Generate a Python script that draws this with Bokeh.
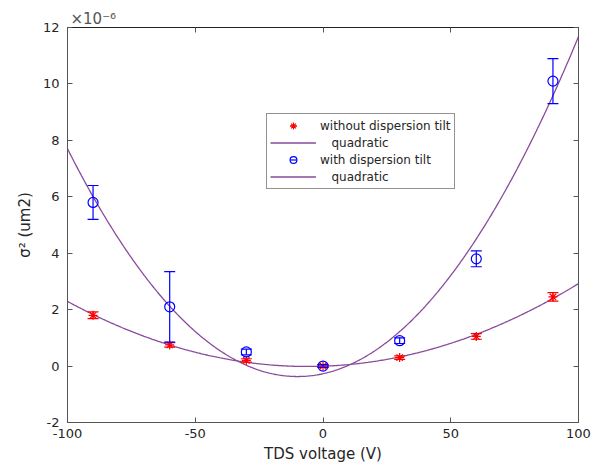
import numpy as np
from bokeh.plotting import figure
from bokeh.models import (LinearAxis, FixedTicker, Legend, LegendItem,
                          ColumnDataSource, Range1d)
from bokeh.embed import file_html
from bokeh.resources import INLINE

# ---- data (sigma^2 in units of 1e-6 um2) ----
voltage = [-90, -60, -30, 0, 30, 60, 90]
without_tilt = [1.80, 0.75, 0.20, 0.00, 0.30, 1.05, 2.45]
without_err = [0.12, 0.08, 0.06, 0.04, 0.06, 0.10, 0.15]
with_tilt = [5.80, 2.10, 0.50, 0.00, 0.90, 3.80, 10.10]
with_err = [0.60, 1.25, 0.10, 0.05, 0.10, 0.28, 0.80]
x_ticks = [-100, -50, 0, 50, 100]
y_ticks = [-2, 0, 2, 4, 6, 8, 10, 12]

FONT = "DejaVu Sans"
RED = "#ff0000"
BLUE = "#0000ff"
PURPLE = "#8a4a9c"
AXC = "#555555"

p = figure(width=592, height=472, output_backend="svg", toolbar_location=None,
           x_range=Range1d(-100, 100), y_range=Range1d(-2, 12),
           min_border_left=67, min_border_right=14, min_border_top=27,
           min_border_bottom=50)
p.background_fill_color = "white"
p.border_fill_color = "white"
p.xgrid.visible = False
p.ygrid.visible = False
p.outline_line_color = "#222222"
p.outline_line_width = 1

p.title.text = "×10⁻⁶"
p.title.text_font = FONT
p.title.text_font_size = "15px"
p.title.text_font_style = "normal"
p.title.text_color = "#555555"
p.title.align = "left"
p.title.offset = 3
p.title.standoff = 0

for ax in (p.xaxis[0], p.yaxis[0]):
    ax.major_tick_in = 5
    ax.major_tick_out = 0
    ax.minor_tick_line_color = None
    ax.axis_line_color = AXC
    ax.major_tick_line_color = AXC
    ax.major_label_text_font = FONT
    ax.major_label_text_font_size = "13px"
    ax.major_label_text_color = "#262626"
    ax.axis_label_text_font = FONT
    ax.axis_label_text_font_size = "15px"
    ax.axis_label_text_font_style = "normal"
    ax.axis_label_text_color = "#262626"
p.xaxis[0].ticker = FixedTicker(ticks=x_ticks)
p.yaxis[0].ticker = FixedTicker(ticks=y_ticks)
p.xaxis[0].major_label_overrides = {t: str(t) for t in x_ticks}
p.yaxis[0].major_label_overrides = {t: str(t) for t in y_ticks}
p.xaxis[0].axis_label = "TDS voltage (V)"
p.yaxis[0].axis_label = "σ² (um2)"
p.xaxis[0].major_label_standoff = 6
p.yaxis[0].major_label_standoff = 8
p.xaxis[0].axis_label_standoff = 4
p.yaxis[0].axis_label_standoff = 6

# mirrored tick axes (box on)
top = LinearAxis(ticker=FixedTicker(ticks=x_ticks), major_tick_in=5, major_tick_out=0,
                 minor_tick_line_color=None,
                 major_label_overrides={t: "" for t in x_ticks},
                 axis_line_color="#222222", major_tick_line_color=AXC)
right = LinearAxis(ticker=FixedTicker(ticks=y_ticks), major_tick_in=5, major_tick_out=0,
                   minor_tick_line_color=None,
                   major_label_overrides={t: "" for t in y_ticks},
                   axis_line_color=AXC, major_tick_line_color=AXC)
p.add_layout(top, "above")
p.add_layout(right, "right")

# quadratic fits
xs = np.linspace(-100, 100, 401)
cw = np.polyfit(voltage, without_tilt, 2)
cb = np.polyfit(voltage, with_tilt, 2)
fit_without = p.line(xs, np.polyval(cw, xs), line_color=PURPLE, line_width=1.3)
fit_with = p.line(xs, np.polyval(cb, xs), line_color=PURPLE, line_width=1.3)

def errorbars(y, e, color):
    v = np.array(voltage, float)
    y = np.array(y, float)
    e = np.array(e, float)
    src = ColumnDataSource(dict(x=v, lo=y - e, hi=y + e))
    p.segment(x0="x", y0="lo", x1="x", y1="hi", source=src, line_color=color, line_width=1.2)
    p.scatter(x="x", y="lo", source=src, marker="dash", size=11, line_color=color, line_width=1.2)
    p.scatter(x="x", y="hi", source=src, marker="dash", size=11, line_color=color, line_width=1.2)

errorbars(without_tilt, without_err, RED)
m_without = p.scatter(voltage, without_tilt, marker="asterisk", size=9, line_color=RED, line_width=1.2)
errorbars(with_tilt, with_err, BLUE)
m_with = p.scatter(voltage, with_tilt, marker="circle", size=10, fill_color=None,
                   line_color=BLUE, line_width=1.2)

# legend-only glyphs
nan = [np.nan]
lg_bar_r = p.scatter(nan, nan, marker="dash", angle=np.pi / 2, size=16, line_color=RED, line_width=1.2)
lg_bar_b = p.scatter(nan, nan, marker="dash", angle=np.pi / 2, size=16, line_color=BLUE, line_width=1.2)
lg_m_r = p.scatter(nan, nan, marker="asterisk", size=9, line_color=RED, line_width=1.2)
lg_m_b = p.scatter(nan, nan, marker="circle", size=10, fill_color=None, line_color=BLUE, line_width=1.2)

legend = Legend(items=[
    LegendItem(label="without dispersion tilt", renderers=[lg_bar_r, lg_m_r]),
    LegendItem(label="   quadratic", renderers=[fit_without]),
    LegendItem(label="with dispersion tilt", renderers=[lg_bar_b, lg_m_b]),
    LegendItem(label="   quadratic", renderers=[fit_with]),
], location=(199, 233))
legend.label_text_font = FONT
legend.label_text_font_size = "12px"
legend.label_text_color = "#262626"
legend.glyph_width = 46
legend.glyph_height = 17
legend.label_height = 17
legend.spacing = 0
legend.padding = 3
legend.margin = 0
legend.label_standoff = 4
legend.border_line_color = "#262626"
legend.border_line_width = 1
legend.background_fill_color = "white"
p.add_layout(legend, "center")

open("out.html", "w").write(file_html(p, INLINE))
